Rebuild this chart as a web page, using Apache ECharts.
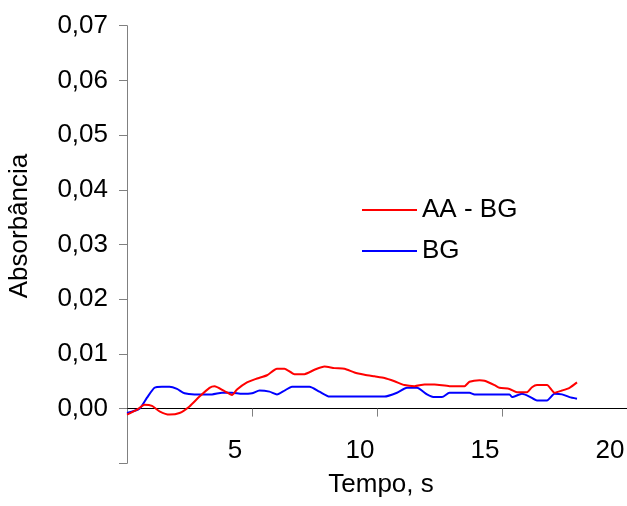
<!DOCTYPE html>
<html>
<head>
<meta charset="utf-8">
<script src="https://cdn.jsdelivr.net/npm/echarts@6/dist/echarts.min.js"></script>
<style>
  html, body { margin: 0; padding: 0; background: #fff; }
  #chart { width: 627px; height: 506px; }
</style>
</head>
<body>
<div id="chart"></div>
<script>
// Time (s) and absorbance readings for each trace
const timeRed = [0.0, 0.4, 0.7, 1.0, 1.3, 1.7, 2.1, 2.5, 2.9, 3.3, 3.5, 3.9, 4.2, 4.4, 4.8, 5.2, 5.6, 6.0, 6.3, 6.7, 7.1, 7.5, 7.9, 8.3, 8.7, 9.1, 9.5, 9.9, 10.3, 10.7, 11.1, 11.5, 11.9, 12.3, 12.9, 13.5, 13.7, 14.1, 14.3, 14.7, 14.9, 15.3, 15.6, 16.0, 16.2, 16.4, 16.8, 17.1, 17.4, 17.7, 18.0];
const absRed = [-0.0011, -0.0002, 0.0007, 0.0005, -0.0005, -0.0011, -0.0008, 0.0004, 0.0022, 0.0038, 0.0041, 0.0032, 0.0025, 0.0035, 0.0048, 0.0055, 0.0061, 0.0073, 0.0073, 0.0063, 0.0063, 0.0071, 0.0077, 0.0074, 0.0073, 0.0066, 0.0062, 0.0059, 0.0056, 0.0050, 0.0043, 0.0041, 0.0044, 0.0044, 0.0041, 0.0041, 0.0049, 0.0052, 0.0051, 0.0043, 0.0038, 0.0036, 0.0030, 0.0030, 0.0039, 0.0043, 0.0043, 0.0029, 0.0033, 0.0038, 0.0048];

const timeBlue = [0.0, 0.5, 0.8, 1.1, 1.4, 1.7, 2.0, 2.3, 2.7, 3.4, 3.8, 4.2, 4.6, 5.0, 5.3, 5.7, 6.0, 6.3, 6.6, 7.3, 7.7, 8.1, 8.5, 9.5, 10.3, 10.8, 11.2, 11.6, 12.0, 12.3, 12.6, 12.9, 13.7, 13.9, 15.3, 15.4, 15.8, 16.1, 16.4, 16.8, 17.1, 17.4, 17.7, 18.0];
const absBlue = [-0.0008, 0.0000, 0.0020, 0.0038, 0.0040, 0.0040, 0.0036, 0.0028, 0.0026, 0.0026, 0.0029, 0.0029, 0.0027, 0.0028, 0.0033, 0.0031, 0.0026, 0.0033, 0.0040, 0.0040, 0.0031, 0.0022, 0.0022, 0.0022, 0.0022, 0.0029, 0.0038, 0.0038, 0.0026, 0.0021, 0.0021, 0.0029, 0.0029, 0.0026, 0.0026, 0.0021, 0.0027, 0.0022, 0.0015, 0.0015, 0.0027, 0.0026, 0.0021, 0.0018];

const seriesNames = ['AA - BG', 'BG'];

const FONT = '"Liberation Sans", Arial, sans-serif';
const FS = 26;

// Plot area edges (px) and value range of the absorbance axis
const GRID = { left: 127, right: 0, top: 25.7, bottom: 42.7 };
const Y_MIN = -0.01, Y_MAX = 0.07;
// The time axis crosses the absorbance axis at zero: lift it by the height of the negative band
const plotH = 506 - GRID.top - GRID.bottom;
const zeroLift = plotH * (0 - Y_MIN) / (Y_MAX - Y_MIN);

function pairs(xs, ys) { return xs.map((x, i) => [x, ys[i]]); }

const chart = echarts.init(document.getElementById('chart'), null, { renderer: 'canvas' });
chart.setOption({
  animation: false,
  backgroundColor: '#ffffff',
  textStyle: { fontFamily: FONT },
  grid: Object.assign({ containLabel: false, outerBoundsMode: 'none' }, GRID),
  legend: {
    orient: 'vertical',
    left: 362,
    top: 197,
    itemWidth: 55,
    itemHeight: 2,
    itemGap: 15,
    icon: 'rect',
    padding: 0,
    textStyle: { fontFamily: FONT, fontSize: FS, color: '#000' },
    data: seriesNames
  },
  xAxis: {
    type: 'value',
    min: 0,
    max: 20,
    interval: 5,
    offset: -zeroLift,
    name: 'Tempo, s',
    nameLocation: 'middle',
    nameGap: 63,
    nameTextStyle: { fontFamily: FONT, fontSize: FS, color: '#000', padding: [0, 0, 0, 8] },
    axisLine: { onZero: false, lineStyle: { color: '#000', width: 1 } },
    axisTick: { show: true, inside: false, length: 8, lineStyle: { color: '#808080' } },
    axisLabel: {
      fontFamily: FONT, fontSize: FS, color: '#000', margin: 29,
      padding: [0, 34, 0, 0],
      formatter: v => (v === 0 ? '' : String(v))
    },
    splitLine: { show: false }
  },
  yAxis: {
    type: 'value',
    min: Y_MIN,
    max: Y_MAX,
    interval: 0.01,
    name: 'Absorbância',
    nameLocation: 'middle',
    nameGap: 94,
    nameTextStyle: { fontFamily: FONT, fontSize: FS, color: '#000', padding: [0, 0, 0, 37] },
    axisLine: { show: true, lineStyle: { color: '#808080', width: 1 } },
    axisTick: { show: true, inside: false, length: 8, lineStyle: { color: '#808080' } },
    axisLabel: {
      fontFamily: FONT, fontSize: FS, color: '#000', margin: 19,
      formatter: v => (v < -0.001 ? '' : v.toFixed(2).replace('.', ','))
    },
    splitLine: { show: false }
  },
  series: [
    {
      name: seriesNames[0], type: 'line', data: pairs(timeRed, absRed),
      showSymbol: false, smooth: 0.2, color: '#ff0000',
      lineStyle: { color: '#ff0000', width: 2 }, z: 3
    },
    {
      name: seriesNames[1], type: 'line', data: pairs(timeBlue, absBlue),
      showSymbol: false, smooth: 0.2, color: '#0000ff',
      lineStyle: { color: '#0000ff', width: 2 }, z: 2
    }
  ]
});
</script>
</body>
</html>
